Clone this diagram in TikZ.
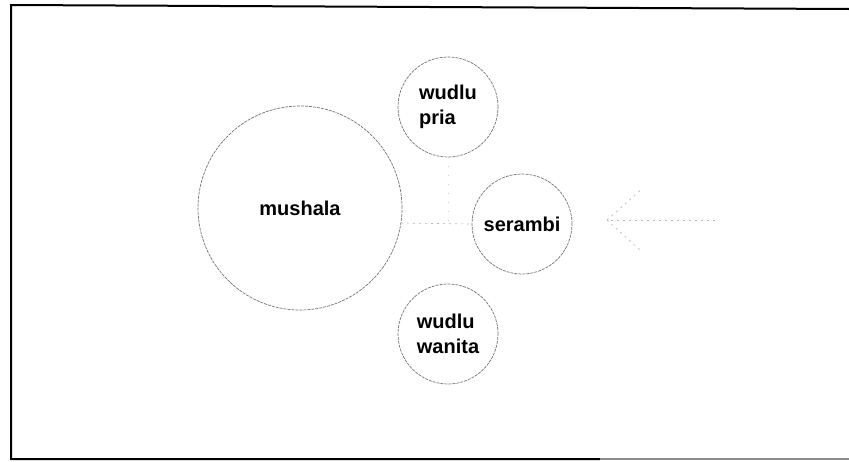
\documentclass[tikz,border=0pt]{standalone}
\usepackage{fontspec}
\setmainfont{Liberation Sans}
\begin{document}
\begin{tikzpicture}[x=1pt,y=-1pt,
  room/.style={circle, draw=black!55, line width=0.7pt, dash pattern=on 3pt off 1pt,
    inner sep=0pt, align=left, font=\fontsize{20}{25}\selectfont\bfseries},
  faint/.style={draw=black!28, line width=0.7pt, dash pattern=on 2pt off 4pt},
  fainter/.style={draw=black!18, line width=0.6pt, dash pattern=on 1pt off 8pt},
  frame/.style={draw=black, line width=2pt}]
\useasboundingbox (0,0) rectangle (849,461);
% frame (top, left, bottom)
\draw[frame] (849,9) -- (11,5) -- (11,459) -- (600,459);
\draw[draw=black!45, line width=2pt] (600,459) -- (849,459);
% rooms
\node[room, minimum size=204] (mushala) at (300,208) {mushala};
\node[room, minimum size=100] (pria) at (448,107) {wudlu\\pria};
\node[room, minimum size=100] (serambi) at (522,224) {serambi};
\node[room, minimum size=100] (wanita) at (448,334) {wudlu\\wanita};
% connectors
\coordinate (join) at (448,223);
\coordinate (mushalaside) at (401,223);
\draw[faint] (mushalaside) -- (serambi.west);
\draw[fainter] (pria.south) -- (join);
% entrance arrow
\coordinate (entry) at (715,220);
\coordinate (tip) at (607,220);
\draw[faint] (entry) -- (tip);
\draw[faint] (tip) -- ++(36,-32);
\draw[faint] (tip) -- ++(33,30);
\end{tikzpicture}
\end{document}
